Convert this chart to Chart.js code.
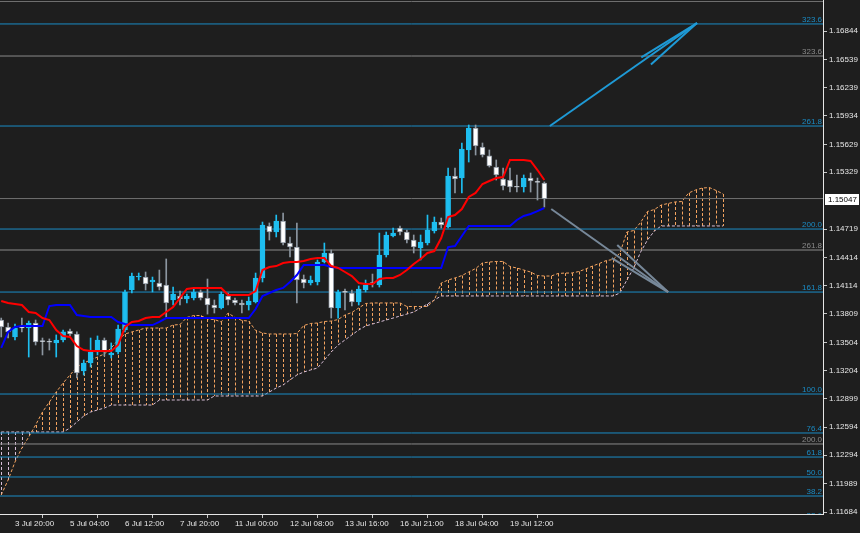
<!DOCTYPE html>
<html>
<head>
<meta charset="utf-8">
<script src="https://cdn.jsdelivr.net/npm/chart.js@4.4.0/dist/chart.umd.min.js"></script>
<style>
html, body { margin: 0; padding: 0; background: #1e1e1e; }
#wrap { width: 860px; height: 533px; }
</style>
</head>
<body>
<div id="wrap"><canvas id="myChart" width="860" height="533"></canvas></div>
<script>
// H4 candles, bar index 0..79
const open = [1.13744,1.13669,1.13562,1.13669,1.13658,1.13712,1.13519,1.13509,1.13498,1.13530,
1.13626,1.13594,1.13197,1.13283,1.13401,1.13530,1.13369,1.13401,1.13637,1.14066,
1.14205,1.14205,1.14152,1.14141,1.14120,1.13959,1.14002,1.13969,1.13980,1.14045,
1.13980,1.13905,1.13873,1.14002,1.13959,1.13927,1.13905,1.13937,1.14195,1.14753,
1.14688,1.14806,1.14570,1.14527,1.14184,1.14141,1.14152,1.14366,1.14463,1.13873,
1.14045,1.14034,1.13937,1.14066,1.14141,1.14120,1.14441,1.14645,1.14731,1.14688,
1.14602,1.14517,1.14570,1.14699,1.14795,1.14742,1.15289,1.15267,1.15568,1.15804,
1.15600,1.15504,1.15385,1.15257,1.15246,1.15171,1.15171,1.15267,1.15225,1.15214];
const high = [1.13765,1.13712,1.13701,1.13765,1.13733,1.13744,1.13551,1.13541,1.13584,1.13637,
1.13648,1.13616,1.13315,1.13551,1.13573,1.13551,1.13498,1.13690,1.14066,1.14248,
1.14248,1.14259,1.14205,1.14280,1.14399,1.14098,1.14055,1.14023,1.14088,1.14066,
1.14184,1.13959,1.14045,1.14034,1.13980,1.13959,1.13991,1.14248,1.14795,1.14785,
1.14870,1.14892,1.14635,1.14785,1.14227,1.14216,1.14388,1.14570,1.14495,1.14066,
1.14077,1.14066,1.14109,1.14173,1.14237,1.14677,1.14688,1.14731,1.14753,1.14710,
1.14656,1.14656,1.14870,1.14849,1.14838,1.15375,1.15375,1.15643,1.15836,1.15836,
1.15643,1.15568,1.15461,1.15375,1.15375,1.15300,1.15300,1.15321,1.15267,1.15225];
const low = [1.13562,1.13551,1.13530,1.13616,1.13347,1.13476,1.13369,1.13422,1.13347,1.13509,
1.13573,1.13122,1.13154,1.13240,1.13369,1.13358,1.13337,1.13380,1.13616,1.14034,
1.14173,1.14066,1.14045,1.14066,1.13776,1.13905,1.13905,1.13927,1.13959,1.13959,
1.13808,1.13819,1.13862,1.13905,1.13905,1.13819,1.13851,1.13927,1.14152,1.14602,
1.14635,1.14549,1.14420,1.13927,1.14088,1.14120,1.14120,1.14356,1.13765,1.13765,
1.13851,1.13894,1.13905,1.14045,1.14098,1.14098,1.14420,1.14635,1.14656,1.14570,
1.14463,1.14388,1.14549,1.14677,1.14731,1.14731,1.15107,1.15107,1.15439,1.15514,
1.15493,1.15385,1.15246,1.15139,1.15117,1.15117,1.15117,1.15117,1.15031,1.14956];
const close = [1.13669,1.13616,1.13658,1.13660,1.13712,1.13509,1.13512,1.13505,1.13530,1.13616,
1.13594,1.13176,1.13283,1.13401,1.13530,1.13401,1.13390,1.13648,1.14045,1.14216,
1.14210,1.14130,1.14173,1.14098,1.13927,1.14023,1.13969,1.14002,1.14045,1.13980,
1.13905,1.13873,1.14023,1.13959,1.13927,1.13905,1.13948,1.14195,1.14763,1.14688,
1.14806,1.14570,1.14527,1.14173,1.14141,1.14173,1.14366,1.14463,1.13873,1.14045,
1.14040,1.13937,1.14077,1.14120,1.14136,1.14441,1.14656,1.14677,1.14688,1.14602,
1.14527,1.14581,1.14710,1.14795,1.14763,1.15289,1.15257,1.15579,1.15804,1.15611,
1.15514,1.15396,1.15300,1.15182,1.15171,1.15168,1.15267,1.15235,1.15220,1.15047];

// Ichimoku
const tenkan = [1.13948,1.13927,1.13916,1.13905,1.13830,1.13819,1.13765,1.13744,1.13637,1.13573,
1.13562,1.13465,1.13422,1.13411,1.13411,1.13411,1.13411,1.13476,1.13669,1.13723,
1.13733,1.13765,1.13776,1.13776,1.13830,1.13884,1.13980,1.14077,1.14088,1.14088,
1.14088,1.14088,1.14088,1.14012,1.14012,1.14012,1.14012,1.14055,1.14280,1.14313,
1.14323,1.14356,1.14366,1.14366,1.14377,1.14399,1.14409,1.14409,1.14323,1.14302,
1.14259,1.14216,1.14141,1.14130,1.14130,1.14184,1.14195,1.14195,1.14227,1.14280,
1.14345,1.14399,1.14463,1.14484,1.14624,1.14849,1.14870,1.14935,1.15064,1.15107,
1.15203,1.15235,1.15267,1.15278,1.15461,1.15461,1.15461,1.15450,1.15353,1.15246];
const kijun = [1.13444,1.13616,1.13669,1.13680,1.13680,1.13680,1.13680,1.13894,1.13905,1.13905,
1.13905,1.13798,1.13787,1.13776,1.13776,1.13776,1.13776,1.13723,1.13701,1.13690,
1.13690,1.13690,1.13690,1.13723,1.13765,1.13765,1.13765,1.13765,1.13765,1.13765,
1.13765,1.13765,1.13765,1.13765,1.13765,1.13765,1.13765,1.13862,1.14002,1.14034,
1.14066,1.14088,1.14152,1.14227,1.14334,1.14334,1.14334,1.14334,1.14313,1.14302,
1.14302,1.14302,1.14302,1.14302,1.14302,1.14302,1.14302,1.14302,1.14302,1.14302,
1.14302,1.14302,1.14302,1.14302,1.14302,1.14527,1.14538,1.14645,1.14753,1.14753,
1.14753,1.14753,1.14753,1.14753,1.14753,1.14817,1.14860,1.14881,1.14913,1.14946];
const spanA = [1.11867,1.12028,1.12221,1.12371,1.12489,1.12618,1.12757,1.12864,1.12972,1.13068,
1.13154,1.13240,1.13283,1.13315,1.13347,1.13380,1.13444,1.13530,1.13594,1.13616,
1.13637,1.13658,1.13658,1.13658,1.13658,1.13690,1.13696,1.13771,1.13792,1.13792,
1.13755,1.13749,1.13723,1.13819,1.13771,1.13739,1.13733,1.13632,1.13605,1.13594,
1.13594,1.13594,1.13594,1.13599,1.13685,1.13707,1.13712,1.13728,1.13733,1.13749,
1.13798,1.13825,1.13873,1.13921,1.13927,1.13927,1.13927,1.13927,1.13927,1.13889,
1.13889,1.13889,1.13889,1.13959,1.14141,1.14173,1.14195,1.14221,1.14259,1.14296,
1.14356,1.14366,1.14372,1.14372,1.14318,1.14302,1.14280,1.14259,1.14221,1.14216,
1.14216,1.14243,1.14248,1.14248,1.14264,1.14291,1.14323,1.14350,1.14382,1.14393,
1.14463,1.14688,1.14704,1.14790,1.14908,1.14929,1.14978,1.14994,1.15010,1.15015,
1.15107,1.15139,1.15160,1.15165,1.15133,1.15096];
const spanB = [1.12543,1.12543,1.12543,1.12543,1.12543,1.12543,1.12543,1.12543,1.12543,1.12543,
1.12585,1.12650,1.12714,1.12757,1.12779,1.12800,1.12832,1.12832,1.12832,1.12832,
1.12832,1.12832,1.12832,1.12886,1.12886,1.12886,1.12886,1.12886,1.12886,1.12886,
1.12886,1.12929,1.12929,1.12929,1.12929,1.12929,1.12929,1.12929,1.12929,1.12972,
1.13015,1.13047,1.13101,1.13154,1.13186,1.13208,1.13229,1.13315,1.13401,1.13476,
1.13530,1.13584,1.13637,1.13680,1.13701,1.13723,1.13744,1.13765,1.13787,1.13808,
1.13830,1.13873,1.13916,1.13959,1.14002,1.14002,1.14002,1.14002,1.14002,1.14002,
1.14002,1.14002,1.14002,1.14002,1.14002,1.14002,1.14002,1.14002,1.14002,1.14002,
1.14002,1.14002,1.14002,1.14002,1.14002,1.14002,1.14002,1.14002,1.14002,1.14002,
1.14034,1.14173,1.14302,1.14473,1.14602,1.14699,1.14753,1.14753,1.14753,1.14753,
1.14753,1.14753,1.14753,1.14753,1.14753,1.14753];

// fibo levels
const blueLevels = [1.16920,1.15825,1.14720,1.14044,1.12950,1.12532,1.12274,1.12060,1.11856,1.11598];
const blueLevelNames = ['323.6','261.8','200.0','161.8','100.0','76.4','61.8','50.0','38.2','23.6'];
const grayLevels = [1.16576,1.14495,1.12414];
const grayLevelNames = ['323.6','261.8','200.0'];

// arrows: [bar1, price1, bar2, price2]
const blueArrow = [[79.8,1.15825,101.2,1.16930],[93.1,1.16562,101.2,1.16930],[94.5,1.16486,101.2,1.16930]];
const grayArrow = [[80.0,1.14935,97.0,1.14044],[89.6,1.14549,97.0,1.14044],[88.8,1.14409,97.0,1.14044]];

// axes
const timeBars = [2,10,18,26,34,42,50,58,66,74];
const timeLabels = ['3 Jul 20:00','5 Jul 04:00','6 Jul 12:00','7 Jul 20:00','11 Jul 00:00','12 Jul 08:00','13 Jul 16:00','16 Jul 21:00','18 Jul 04:00','19 Jul 12:00'];
const priceTicks = [1.16844,1.16539,1.16239,1.15934,1.15629,1.15329,1.14719,1.14414,1.14114,1.13809,1.13504,1.13204,1.12899,1.12594,1.12294,1.11989,1.11684];
const xMin = -0.18, xMax = 119.53;
const yMin = 1.11663, yMax = 1.17177;

const bull = '#1ebef0';
const bearLine = '#8c96a0';
const fibBlue = '#1a8cc6';
const fibGray = '#8a8a8a';
const sandy = '#f4a460';
const thistle = '#d8bfd8';

Chart.defaults.font.family = '"Liberation Sans", Arial, sans-serif';
Chart.defaults.font.size = 8;
Chart.defaults.color = '#e6e6e6';

const isBull = i => close[i] > open[i];
const hline = (p, color) => ({
    type: 'line', data: [{x: xMin - 1, y: p}, {x: xMax + 1, y: p}],
    borderColor: color, borderWidth: 1, pointRadius: 0, order: 7
});

const datasets = [];

// cloud borders
datasets.push({type: 'line', order: 9, data: spanA.map((v, i) => ({x: i, y: v})),
    borderColor: sandy, borderWidth: 1, borderDash: [3, 2], pointRadius: 0});
datasets.push({type: 'line', order: 9, data: spanB.map((v, i) => ({x: i, y: v})),
    borderColor: thistle, borderWidth: 1, borderDash: [3, 2], pointRadius: 0});

// levels
blueLevels.forEach(p => datasets.push(hline(p, fibBlue)));
grayLevels.forEach(p => datasets.push(hline(p, fibGray)));
datasets.push(hline(close[close.length - 1], '#707070'));

// candles
datasets.push({
    type: 'bar', order: 5, grouped: false, barThickness: 1,
    data: high.map((h, i) => ({x: i, y: [low[i], h]})),
    backgroundColor: c => isBull(c.dataIndex) ? bull : bearLine
});
datasets.push({
    type: 'bar', order: 4, grouped: false, barThickness: 5, minBarLength: 1,
    data: open.map((o, i) => ({x: i, y: [o, close[i]]})),
    backgroundColor: c => isBull(c.dataIndex) ? bull : '#ffffff',
    borderColor: c => isBull(c.dataIndex) ? bull : bearLine,
    borderWidth: 1, borderSkipped: false
});

// tenkan / kijun
datasets.push({type: 'line', order: 2, data: tenkan.map((v, i) => ({x: i, y: v})),
    borderColor: '#ff0000', borderWidth: 2, pointRadius: 0});
datasets.push({type: 'line', order: 2, data: kijun.map((v, i) => ({x: i, y: v})),
    borderColor: '#0000ff', borderWidth: 2, pointRadius: 0});

// arrows
blueArrow.forEach(s => datasets.push({type: 'line', order: 1,
    data: [{x: s[0], y: s[1]}, {x: s[2], y: s[3]}], borderColor: '#1e9ad6', borderWidth: 2, pointRadius: 0}));
grayArrow.forEach(s => datasets.push({type: 'line', order: 1,
    data: [{x: s[0], y: s[1]}, {x: s[2], y: s[3]}], borderColor: '#778899', borderWidth: 2, pointRadius: 0}));

const extras = {
    id: 'extras',
    beforeDraw(chart) {
        const {ctx, width, height} = chart;
        ctx.save();
        ctx.fillStyle = '#1e1e1e';
        ctx.fillRect(0, 0, width, height);
        ctx.restore();
    },
    // dotted cloud hatch, one line per bar between span A and span B
    beforeDatasetsDraw(chart) {
        const {ctx, chartArea: a, scales: {x, y}} = chart;
        ctx.save();
        ctx.beginPath();
        ctx.rect(a.left, a.top, a.right - a.left, a.bottom - a.top);
        ctx.clip();
        ctx.lineWidth = 1;
        ctx.setLineDash([3, 2]);
        spanA.forEach((v, i) => {
            const px = Math.round(x.getPixelForValue(i)) + 0.5;
            const ya = y.getPixelForValue(v), yb = y.getPixelForValue(spanB[i]);
            ctx.strokeStyle = v >= spanB[i] ? sandy : thistle;
            ctx.beginPath();
            ctx.moveTo(px, Math.min(ya, yb));
            ctx.lineTo(px, Math.max(ya, yb));
            ctx.stroke();
        });
        ctx.restore();
    },
    afterDatasetsDraw(chart) {
        const {ctx, chartArea: a, scales: {y}} = chart;
        ctx.save();
        ctx.beginPath();
        ctx.rect(a.left, a.top, a.right - a.left, a.bottom - a.top);
        ctx.clip();
        ctx.font = '8px "Liberation Sans", Arial, sans-serif';
        ctx.textAlign = 'right';
        ctx.textBaseline = 'alphabetic';
        ctx.fillStyle = fibBlue;
        blueLevels.forEach((p, i) => ctx.fillText(blueLevelNames[i], a.right - 1, Math.round(y.getPixelForValue(p)) - 2));
        ctx.fillStyle = fibGray;
        grayLevels.forEach((p, i) => ctx.fillText(grayLevelNames[i], a.right - 1, Math.round(y.getPixelForValue(p)) - 2));
        ctx.restore();
    },
    afterDraw(chart) {
        const {ctx, chartArea: a, scales: {y}, width} = chart;
        const last = close[close.length - 1];
        const py = Math.round(y.getPixelForValue(last));
        ctx.save();
        ctx.strokeStyle = '#6e6e6e';
        ctx.beginPath();
        ctx.moveTo(0, 1.5);
        ctx.lineTo(a.right, 1.5);
        ctx.stroke();
        ctx.fillStyle = '#ffffff';
        ctx.fillRect(a.right + 2, py - 5, width - a.right - 3, 11);
        ctx.fillStyle = '#000000';
        ctx.font = '8px "Liberation Sans", Arial, sans-serif';
        ctx.textBaseline = 'middle';
        ctx.textAlign = 'left';
        ctx.fillText(last.toFixed(5), a.right + 5, py + 1);
        ctx.restore();
    }
};

const myChart = new Chart(document.getElementById('myChart').getContext('2d'), {
    type: 'bar',
    data: {datasets: datasets},
    options: {
        responsive: false,
        animation: false,
        devicePixelRatio: 1,
        layout: {padding: 0},
        plugins: {legend: {display: false}, tooltip: {enabled: false}},
        scales: {
            x: {
                type: 'linear', min: xMin, max: xMax, offset: false,
                grid: {drawOnChartArea: false, tickLength: 4, color: '#c8c8c8'},
                border: {display: true, color: '#e6e6e6'},
                ticks: {align: 'start', maxRotation: 0, autoSkip: false, padding: 1,
                    color: '#e6e6e6', callback: (v, i) => timeLabels[i]},
                afterBuildTicks: s => { s.ticks = timeBars.map(v => ({value: v})); },
                afterFit: s => { s.height = 19; s.paddingLeft = 0; s.paddingRight = 0; }
            },
            y: {
                type: 'linear', position: 'right', min: yMin, max: yMax,
                grid: {drawOnChartArea: false, tickLength: 4, color: '#c8c8c8'},
                border: {display: true, color: '#e6e6e6'},
                ticks: {autoSkip: false, padding: 2, color: '#e6e6e6', callback: v => v.toFixed(5)},
                afterBuildTicks: s => { s.ticks = priceTicks.map(v => ({value: v})); },
                afterFit: s => { s.width = 37; s.paddingTop = 0; s.paddingBottom = 0; }
            }
        }
    },
    plugins: [extras]
});
</script>
</body>
</html>
